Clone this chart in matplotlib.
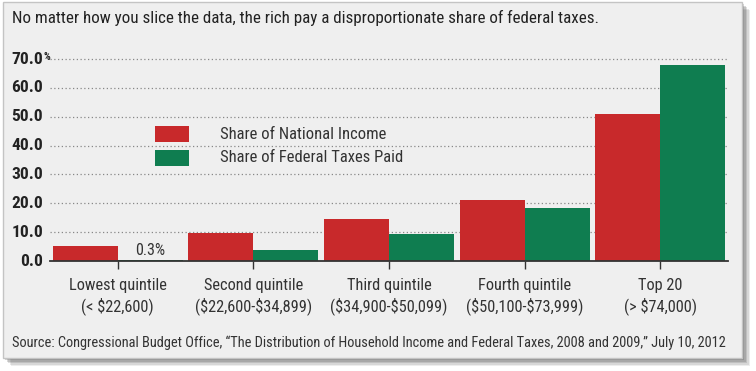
import numpy as np
import matplotlib
matplotlib.use("Agg")
import matplotlib.pyplot as plt
from matplotlib.patches import Rectangle
from matplotlib import font_manager

W, H = 756, 371

groups = ["Lowest quintile\n(< \\$22,600)", "Second quintile\n(\\$22,600-\\$34,899)",
          "Third quintile\n(\\$34,900-\\$50,099)", "Fourth quintile\n(\\$50,100-\\$73,999)",
          "Top 20\n(> \\$74,000)"]
income = [5.1, 9.8, 14.6, 21.2, 50.8]
taxes = [0.3, 3.8, 9.4, 18.4, 67.9]
yticks = [0, 10, 20, 30, 40, 50, 60, 70]
series = ["Share of National Income", "Share of Federal Taxes Paid"]
RED, GREEN = "#c8292b", "#0f7d50"

names = {f.name for f in font_manager.fontManager.ttflist}
FONT = "Roboto Condensed" if "Roboto Condensed" in names else "DejaVu Sans"
plt.rcParams["font.family"] = [FONT, "DejaVu Sans"]


def fx(px):
    return px / W


def fy(py):
    return 1 - py / H


fig = plt.figure(figsize=(W / 100, H / 100), dpi=100)
fig.patch.set_facecolor("white")

# panel with drop shadow
for i, a in enumerate([0.10, 0.14, 0.18, 0.22, 0.26]):
    off = 8 - i * 1.5
    fig.patches.append(Rectangle((fx(3 + off), fy(358 + off)), fx(739), 356 / H,
                                 transform=fig.transFigure, facecolor="#555555",
                                 alpha=a, edgecolor="none", zorder=-2))
fig.patches.append(Rectangle((fx(3), fy(358)), fx(739), 356 / H,
                             transform=fig.transFigure, facecolor="#efefef",
                             edgecolor="#c4c4c4", lw=1, zorder=-1))

ylim_top = 70.6
ax = fig.add_axes([fx(50), fy(261), fx(678), (261 - 59) / H * ylim_top / 70])
ax.set_zorder(2)
ax.set_facecolor("none")
ax.set_xlim(-0.5, 4.5)
ax.set_ylim(0, ylim_top)

x = np.arange(len(groups))
w = 0.48
ax.bar(x - w / 2, income, w, color=RED, zorder=3, label=series[0])
ax.bar(x + w / 2, taxes, w, color=GREEN, zorder=3, label=series[1])

for s in ["top", "right", "left"]:
    ax.spines[s].set_visible(False)
ax.spines["bottom"].set_color("#333333")
ax.spines["bottom"].set_linewidth(1.3)
ax.spines["bottom"].set_zorder(4)

ax.set_yticks(yticks)
ax.set_yticklabels([])
ax.tick_params(axis="y", length=0)
for v in yticks[1:]:
    ax.axhline(v, color="#888888", lw=0.9, ls=(0, (1, 2)), zorder=1)
for v in yticks:
    fig.text(fx(43), fy(261 - v * 202 / 70), f"{v:.1f}", ha="right", va="center",
             fontsize=12.5, fontweight="bold", color="#222222")
fig.text(fx(43.5), fy(52), "%", ha="left", va="top", fontsize=7.5,
         fontweight="bold", color="#222222")

ax.set_xticks(x)
ax.set_xticklabels(groups, fontsize=11.8, color="#333333", linespacing=1.3)
ax.tick_params(axis="x", length=6, width=1, color="#333333", pad=6)

ax.text(x[0] + w / 2, 1.0, f"{taxes[0]}%", ha="center", va="bottom",
        fontsize=11.5, color="#333333", zorder=5)

# legend
for i, (c, lab) in enumerate(zip([RED, GREEN], series)):
    top = 126 + i * 24
    fig.patches.append(Rectangle((fx(155), fy(top + 16)), fx(34), 16 / H,
                                 transform=fig.transFigure, facecolor=c,
                                 edgecolor="none", zorder=5))
    fig.text(fx(220), fy(top + 8), lab, ha="left", va="center", fontsize=12,
             color="#333333", zorder=5)

title = fig.text(fx(12), fy(18), "No matter how you slice the data, the rich pay a "
                 "disproportionate share of federal taxes.", ha="left", va="center",
                 fontsize=12.5, color="#222222")
source = fig.text(fx(12), fy(343), "Source: Congressional Budget Office, \u201cThe "
                  "Distribution of Household Income and Federal Taxes, 2008 and "
                  "2009,\u201d July 10, 2012", ha="left", va="center", fontsize=10,
                  color="#333333")

# fit long lines to the reference widths
r = fig.canvas.get_renderer()
for t, target in [(title, 590), (source, 712)]:
    wpx = t.get_window_extent(r).width
    t.set_fontsize(t.get_fontsize() * target / wpx)

fig.savefig("out.png", dpi=100)
